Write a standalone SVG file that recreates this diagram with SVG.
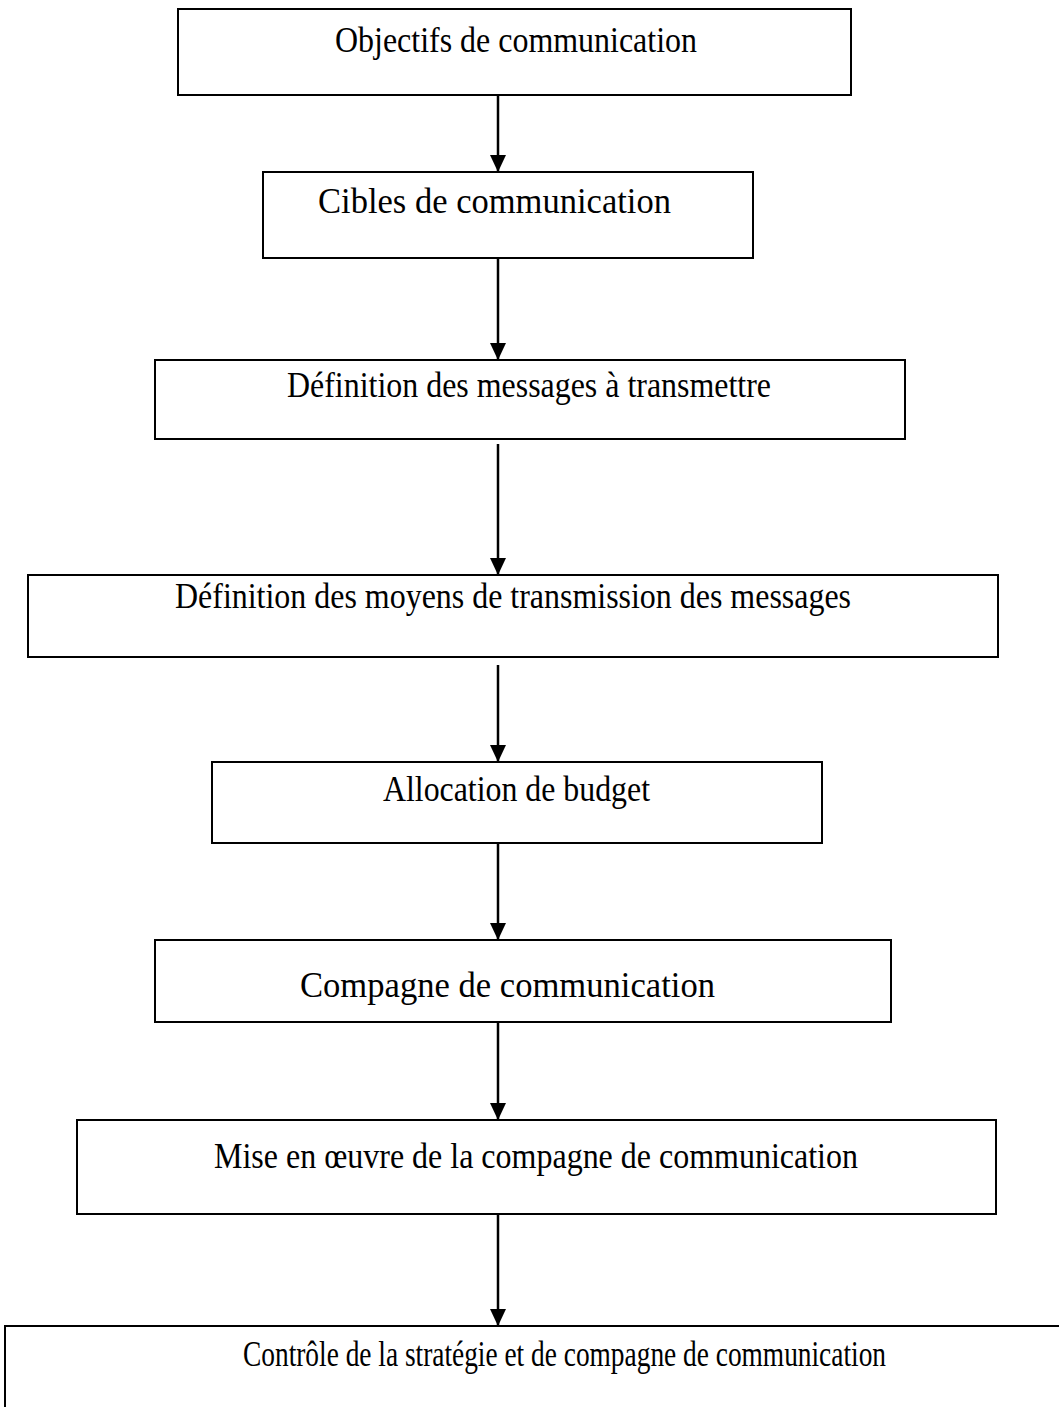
<svg xmlns="http://www.w3.org/2000/svg" width="1059" height="1407" viewBox="0 0 1059 1407">
  <style>
    .box { fill: #ffffff; stroke: #000000; stroke-width: 2; }
    .label { font-family: "Liberation Serif", "Times New Roman", serif; font-size: 36px; fill: #000000; }
    .edge { stroke: #000000; stroke-width: 2.5; fill: none; marker-end: url(#arrow); }
  </style>
  <defs>
    <!-- filled arrowhead, drawn along +x so orient="auto" points it down the line -->
    <marker id="arrow" viewBox="0 0 17 16" refX="17" refY="8" markerWidth="17" markerHeight="16" markerUnits="userSpaceOnUse" orient="auto">
      <path d="M0,0 L17,8 L0,16 Z" fill="#000000"/>
    </marker>
  </defs>
  <rect width="1059" height="1407" fill="#ffffff"/>

  <!-- connectors -->
  <g id="connectors">
    <line class="edge" x1="498" y1="95" x2="498" y2="172"/>
    <line class="edge" x1="498" y1="258" x2="498" y2="360"/>
    <line class="edge" x1="498" y1="444" x2="498" y2="575"/>
    <line class="edge" x1="498" y1="665" x2="498" y2="762"/>
    <line class="edge" x1="498" y1="843" x2="498" y2="940"/>
    <line class="edge" x1="498" y1="1022" x2="498" y2="1120"/>
    <line class="edge" x1="498" y1="1214" x2="498" y2="1326"/>
  </g>

  <g id="objectifs">
    <rect class="box" x="178" y="9" width="673" height="86"/>
    <text class="label" x="335" y="52" textLength="362" lengthAdjust="spacingAndGlyphs">Objectifs de communication</text>
  </g>
  <g id="cibles">
    <rect class="box" x="263" y="172" width="490" height="86"/>
    <text class="label" x="318" y="213" textLength="353" lengthAdjust="spacingAndGlyphs">Cibles de communication</text>
  </g>
  <g id="messages">
    <rect class="box" x="155" y="360" width="750" height="79"/>
    <text class="label" x="287" y="397" textLength="484" lengthAdjust="spacingAndGlyphs">Définition des messages à transmettre</text>
  </g>
  <g id="moyens">
    <rect class="box" x="28" y="575" width="970" height="82"/>
    <text class="label" x="175" y="608" textLength="676" lengthAdjust="spacingAndGlyphs">Définition des moyens de transmission des messages</text>
  </g>
  <g id="budget">
    <rect class="box" x="212" y="762" width="610" height="81"/>
    <text class="label" x="383" y="801" textLength="267" lengthAdjust="spacingAndGlyphs">Allocation de budget</text>
  </g>
  <g id="compagne">
    <rect class="box" x="155" y="940" width="736" height="82"/>
    <text class="label" x="300" y="997" textLength="415" lengthAdjust="spacingAndGlyphs">Compagne de communication</text>
  </g>
  <g id="mise-en-oeuvre">
    <rect class="box" x="77" y="1120" width="919" height="94"/>
    <text class="label" x="214" y="1168" textLength="644" lengthAdjust="spacingAndGlyphs">Mise en œuvre de la compagne de communication</text>
  </g>
  <g id="controle">
    <!-- last box runs past the bottom and right of the page: only its top and left sides show -->
    <path class="box" d="M1059,1326 H5 V1407"/>
    <text class="label" x="243" y="1366" textLength="643" lengthAdjust="spacingAndGlyphs">Contrôle de la stratégie et de compagne de communication</text>
  </g>
</svg>
